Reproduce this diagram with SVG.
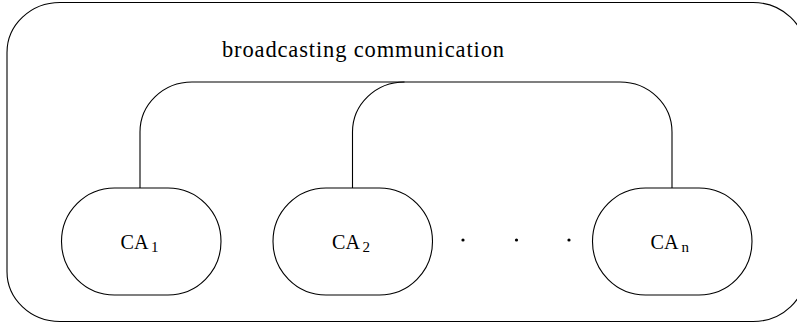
<svg xmlns="http://www.w3.org/2000/svg" width="797" height="324" viewBox="0 0 797 324">
<style>
.ln{fill:none;stroke:#000;stroke-width:1.1}
.t{font-family:"Liberation Serif","Times New Roman",serif;font-size:21px;fill:#000}
.big{font-size:22.5px}
.sub{font-size:15px}
</style>
<rect width="797" height="324" fill="#fff"/>
<g id="frame"><rect class="ln" x="7" y="2.5" width="799" height="319" rx="53" ry="50"/></g>
<text class="t big" x="222" y="56.5" textLength="282" lengthAdjust="spacing">broadcasting communication</text>
<g id="connectors">
<path class="ln" d="M140,188 V132 A52,50 0 0 1 192,82 H620 A52,50 0 0 1 672,132 V188"/>
<path class="ln" d="M352.5,188 V132 A52,50 0 0 1 404.5,82"/>
</g>
<g id="ca1">
<rect class="ln" x="61.5" y="188" width="159.5" height="107" rx="53" ry="53.5"/>
<text class="t" x="120.5" y="248.5" textLength="28" lengthAdjust="spacingAndGlyphs">CA</text><text class="t sub" x="151" y="252">1</text>
</g>
<g id="ca2">
<rect class="ln" x="273" y="188" width="159.5" height="107" rx="53" ry="53.5"/>
<text class="t" x="332" y="248.5" textLength="28" lengthAdjust="spacingAndGlyphs">CA</text><text class="t sub" x="362.5" y="252">2</text>
</g>
<g id="dots">
<circle cx="463" cy="240" r="1.6"/>
<circle cx="516.5" cy="240" r="1.6"/>
<circle cx="569" cy="240" r="1.6"/>
</g>
<g id="can">
<rect class="ln" x="592.5" y="188" width="159.5" height="107" rx="53" ry="53.5"/>
<text class="t" x="650.5" y="248.5" textLength="28" lengthAdjust="spacingAndGlyphs">CA</text><text class="t sub" x="681.5" y="252">n</text>
</g>
</svg>
